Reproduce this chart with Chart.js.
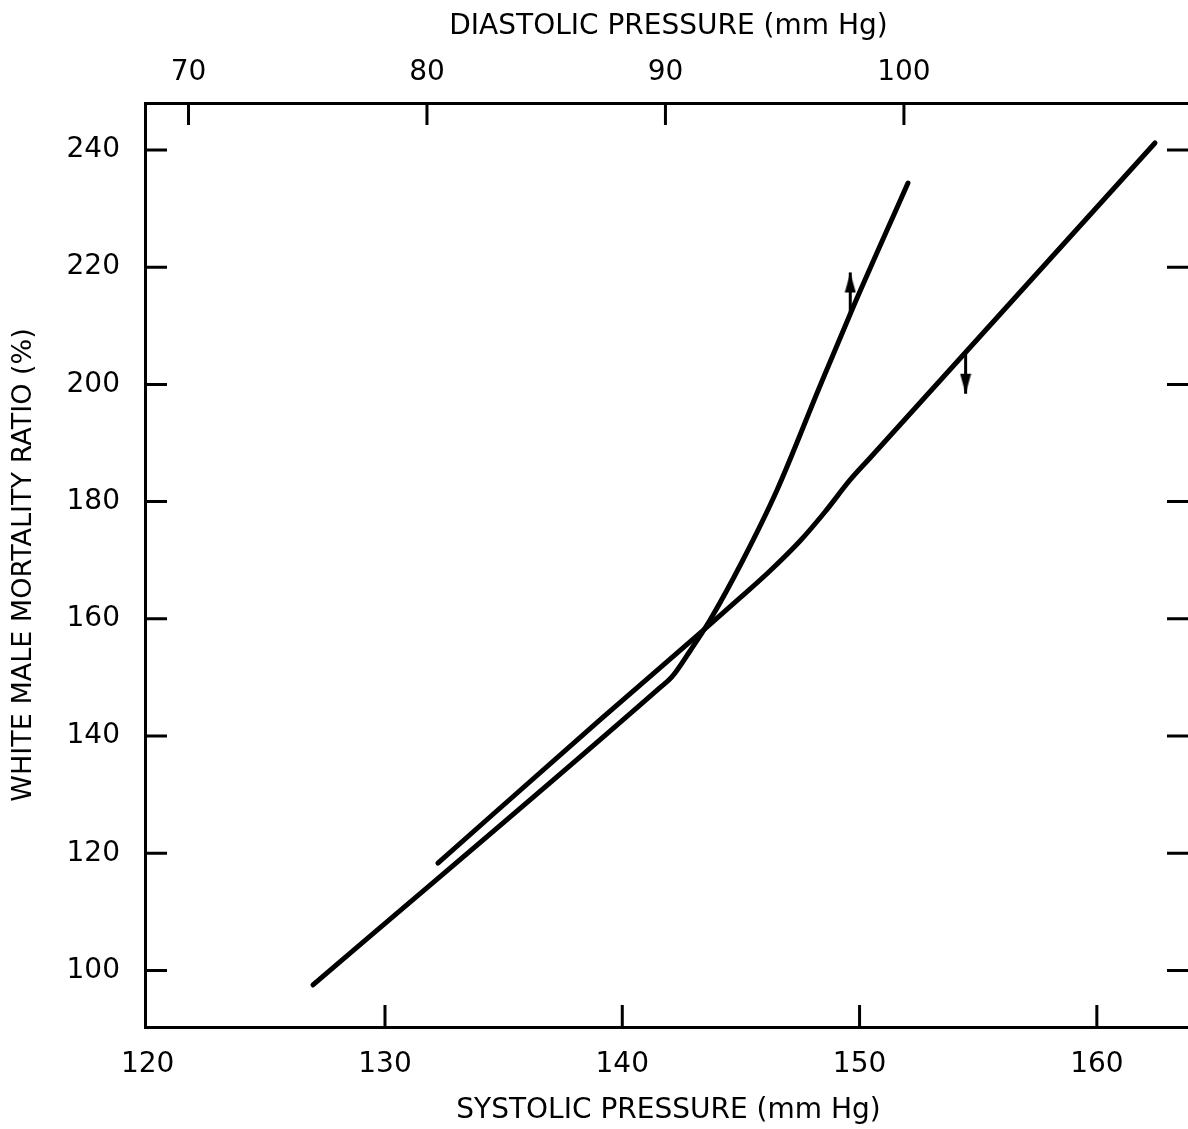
<!DOCTYPE html>
<html><head><meta charset="utf-8">
<script src="https://cdn.jsdelivr.net/npm/chart.js@4"></script>
<style>html,body{margin:0;padding:0;overflow:hidden;background:#fff}canvas{display:block}</style>
</head><body>
<canvas id="c" width="1192" height="1129"></canvas>
<script>
// Systolic curve (read on bottom axis)
const systolicPressure = [132.23, 139.06, 143.53, 144.96, 146.22, 147.49, 148.54, 149.60, 150.44, 162.45];
const systolicRatio    = [118.34, 142.74, 158.44, 163.56, 168.16, 173.28, 178.23, 183.69, 187.44, 241.19];
// Diastolic curve (read on top axis)
const diastolicPressure = [75.22, 89.77, 90.27, 91.03, 91.87, 93.25, 94.68, 96.48, 97.82, 100.17];
const diastolicRatio    = [97.53, 148.25, 150.08, 154.51, 159.80, 170.04, 181.98, 199.73, 212.69, 234.36];
// Arrows pointing to the axis each curve is read on
const diastolicArrowX = [97.75, 97.75];
const diastolicArrowY = [212.2, 219.1];
const systolicArrowX = [154.47, 154.47];
const systolicArrowY = [205.4, 198.4];
// Tick labels
const systolicTicks = [120, 130, 140, 150, 160];
const diastolicTicks = [70, 80, 90, 100];
const ratioTicks = [100, 120, 140, 160, 180, 200, 220, 240];

const pts = (xs, ys) => xs.map((x, i) => ({x, y: ys[i]}));

// narrow arrowhead image, tip at the image centre
const head = document.createElement('canvas');
head.width = 12; head.height = 44;
(function(){const g = head.getContext('2d'); g.fillStyle = '#000'; g.beginPath();
  g.moveTo(6, 22); g.lineTo(11.5, 42); g.lineTo(0.5, 42); g.closePath(); g.fill();})();

const FONT = "'DejaVu Sans', sans-serif";

const innerTicks = {
  id: 'innerTicks',
  afterDraw(chart) {
    const {ctx, chartArea: a, scales} = chart;
    const L = 22;
    ctx.save(); ctx.strokeStyle = '#000'; ctx.lineWidth = 3; ctx.beginPath();
    scales.x.ticks.forEach(t => { const p = scales.x.getPixelForValue(t.value);
      if (p - a.left < 6) return;
      ctx.moveTo(p, a.bottom); ctx.lineTo(p, a.bottom - L); });
    scales.x2.ticks.forEach(t => { const p = scales.x2.getPixelForValue(t.value); ctx.moveTo(p, a.top); ctx.lineTo(p, a.top + L); });
    scales.y.ticks.forEach(t => { const p = scales.y.getPixelForValue(t.value);
      ctx.moveTo(a.left, p); ctx.lineTo(a.left + L, p);
      ctx.moveTo(a.right, p); ctx.lineTo(a.right - 25, p); });
    ctx.stroke(); ctx.restore();
  }
};

const lineDs = (data, xAxisID) => ({
  data, xAxisID, yAxisID: 'y', showLine: true, borderColor: '#000', borderWidth: 5,
  pointRadius: 0, cubicInterpolationMode: 'monotone', borderCapStyle: 'round', borderJoinStyle: 'round', fill: false
});
const arrowDs = (data, xAxisID, rot) => ({
  data, xAxisID, yAxisID: 'y', showLine: true, borderColor: '#000', borderWidth: 3,
  pointRadius: [0, 6], pointBorderWidth: 0, pointStyle: head, pointRotation: rot, fill: false
});

new Chart(document.getElementById('c'), {
  type: 'scatter',
  data: { datasets: [
    lineDs(pts(systolicPressure, systolicRatio), 'x'),
    lineDs(pts(diastolicPressure, diastolicRatio), 'x2'),
    arrowDs(pts(diastolicArrowX, diastolicArrowY), 'x2', 0),
    arrowDs(pts(systolicArrowX, systolicArrowY), 'x', 180)
  ]},
  options: {
    responsive: false, animation: false, events: [],
    layout: { padding: 0, autoPadding: false },
    plugins: { legend: { display: false }, tooltip: { enabled: false } },
    scales: {
      x: {
        type: 'linear', position: 'bottom', min: 119.886, max: 164.01,
        afterBuildTicks: s => { s.ticks = systolicTicks.map(v => ({value: v})); },
        afterFit: s => { s.height = 102; },
        grid: { display: false, drawTicks: false },
        border: { display: true, color: '#000', width: 3 },
        ticks: { color: '#000', font: { family: FONT, size: 28 }, padding: 21, autoSkip: false, maxRotation: 0 },
        title: { display: true, text: 'SYSTOLIC PRESSURE (mm Hg)', color: '#000', font: { family: FONT, size: 28 }, padding: { top: 0, bottom: 1 } }
      },
      x2: {
        type: 'linear', position: 'top', min: 68.176, max: 112.08,
        afterBuildTicks: s => { s.ticks = diastolicTicks.map(v => ({value: v})); },
        afterFit: s => { s.height = 103; },
        grid: { display: false, drawTicks: false },
        border: { display: true, color: '#000', width: 3 },
        ticks: { color: '#000', font: { family: FONT, size: 28 }, padding: 13, autoSkip: false, maxRotation: 0 },
        title: { display: true, text: 'DIASTOLIC PRESSURE (mm Hg)', color: '#000', font: { family: FONT, size: 28 }, padding: { top: 10, bottom: 0 } }
      },
      y: {
        type: 'linear', position: 'left', min: 90.36, max: 248.01,
        afterBuildTicks: s => { s.ticks = ratioTicks.map(v => ({value: v})); },
        afterFit: s => { s.width = 145; },
        grid: { display: false, drawTicks: false },
        border: { display: true, color: '#000', width: 3 },
        ticks: { color: '#000', font: { family: FONT, size: 28 }, padding: 25, autoSkip: false },
        title: { display: true, text: 'WHITE MALE MORTALITY RATIO (%)', color: '#000', font: { family: FONT, size: 27 }, padding: { top: 8, bottom: 0 } }
      }
    }
  },
  plugins: [innerTicks]
});
</script>
</body></html>
